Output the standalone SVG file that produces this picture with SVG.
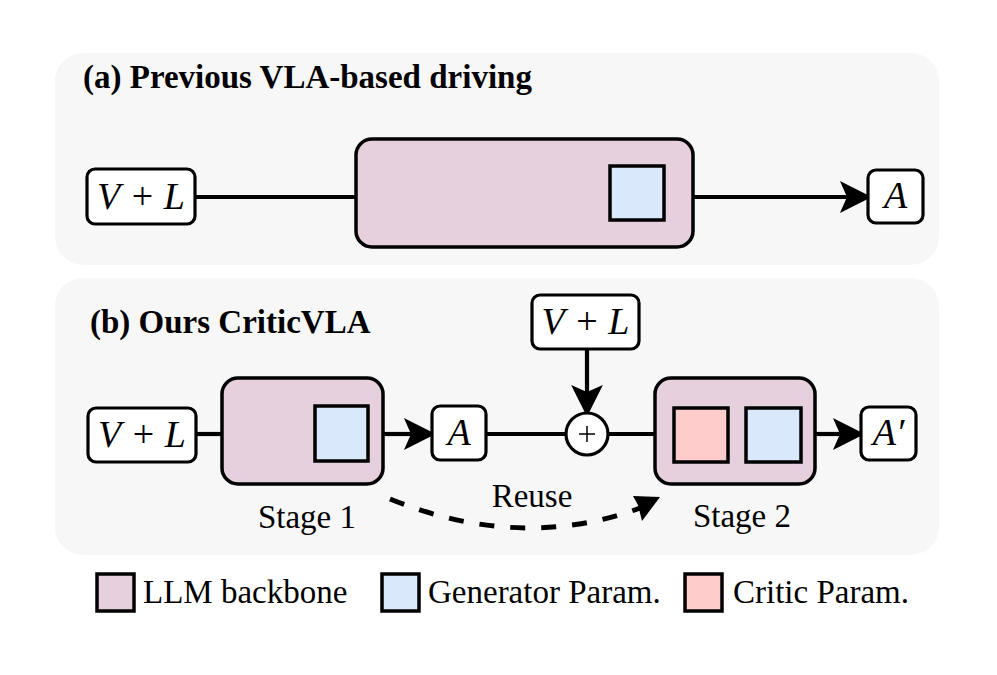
<svg xmlns="http://www.w3.org/2000/svg" width="997" height="675" viewBox="0 0 997 675">
<style>
.panel{fill:#f7f7f7;stroke:none}
.box{fill:#ffffff;stroke:#000;stroke-width:3.2}
.llm{fill:#e6d0de;stroke:#000;stroke-width:3.5}
.gen{fill:#dae8fc;stroke:#000;stroke-width:3.5}
.cri{fill:#ffcccc;stroke:#000;stroke-width:3.5}
.wire{fill:none;stroke:#000;stroke-width:4.2}
.dash{fill:none;stroke:#000;stroke-width:5;stroke-dasharray:15 16}
.title{font-family:"Liberation Serif","Times New Roman",serif;font-weight:bold;font-size:33px;fill:#000}
.lbl{font-family:"Liberation Serif","Times New Roman",serif;font-size:33px;fill:#000}
.math{font-family:"Liberation Serif","Times New Roman",serif;font-size:38px;fill:#000}
.it{font-style:italic}
</style>
<defs>
<marker id="arr" markerUnits="userSpaceOnUse" markerWidth="40" markerHeight="40" viewBox="-2 -16 34 32" refX="6" refY="0" orient="auto" overflow="visible">
<path d="M0,-13.5 L27,0 L0,13.5 L6,0 Z" fill="#000"/>
</marker>
</defs>
<rect width="997" height="675" fill="#ffffff"/>
<g id="panel-a">
<rect class="panel" x="55" y="53" width="884" height="212" rx="28"/>
<text class="title" x="83" y="88">(a) Previous VLA-based driving</text>
</g>
<g id="panel-b">
<rect class="panel" x="55" y="278" width="884" height="277" rx="28"/>
<text class="title" x="90" y="333">(b) Ours CriticVLA</text>
</g>
<g id="connectors">
<line class="wire" x1="195" y1="197" x2="356" y2="197"/>
<line class="wire" x1="693" y1="197" x2="847" y2="197" marker-end="url(#arr)"/>
<line class="wire" x1="196" y1="434" x2="222" y2="434"/>
<line class="wire" x1="383" y1="434" x2="411" y2="434" marker-end="url(#arr)"/>
<line class="wire" x1="486" y1="434" x2="566" y2="434"/>
<line class="wire" x1="608" y1="434" x2="655" y2="434"/>
<line class="wire" x1="815" y1="434" x2="840" y2="434" marker-end="url(#arr)"/>
<line class="wire" x1="587" y1="349" x2="587" y2="392" marker-end="url(#arr)"/>
<path class="dash" d="M390,499 Q521,552 640,508"/>
<path d="M660,497 L633,496 L638,505 L642,521 Z" fill="#000"/>
</g>
<g id="a-input">
<rect class="box" x="87" y="169" width="108" height="55" rx="8"/>
<text class="math" x="141" y="209" text-anchor="middle"><tspan class="it">V</tspan><tspan dx="2"> + </tspan><tspan class="it" dx="1">L</tspan></text>
</g>
<g id="a-llm">
<rect class="llm" x="356" y="139" width="337" height="108" rx="16"/>
<rect class="gen" x="610" y="166" width="54" height="54"/>
</g>
<g id="a-output">
<rect class="box" x="868" y="170" width="55" height="53" rx="8"/>
<text class="math it" x="895.5" y="208" text-anchor="middle">A</text>
</g>
<g id="b-input">
<rect class="box" x="88" y="408" width="108" height="54" rx="8"/>
<text class="math" x="142" y="447" text-anchor="middle"><tspan class="it">V</tspan><tspan dx="2"> + </tspan><tspan class="it" dx="1">L</tspan></text>
</g>
<g id="b-stage1">
<rect class="llm" x="222" y="378" width="161" height="106" rx="16"/>
<rect class="gen" x="315" y="406" width="53" height="55"/>
<text class="lbl" x="307" y="528" text-anchor="middle">Stage 1</text>
</g>
<g id="b-action">
<rect class="box" x="432" y="406" width="54" height="54" rx="8"/>
<text class="math it" x="459" y="445" text-anchor="middle">A</text>
</g>
<g id="b-input2">
<rect class="box" x="532" y="295" width="107" height="54" rx="8"/>
<text class="math" x="585.5" y="334" text-anchor="middle"><tspan class="it">V</tspan><tspan dx="2"> + </tspan><tspan class="it" dx="1">L</tspan></text>
</g>
<g id="b-plus">
<circle cx="587" cy="434" r="21" fill="#ffffff" stroke="#000" stroke-width="3.2"/>
<line x1="579" y1="434" x2="595" y2="434" stroke="#000" stroke-width="1.5"/>
<line x1="587" y1="426" x2="587" y2="442" stroke="#000" stroke-width="1.5"/>
</g>
<g id="b-stage2">
<rect class="llm" x="655" y="378" width="160" height="106" rx="16"/>
<rect class="cri" x="674" y="408" width="54" height="54"/>
<rect class="gen" x="746" y="408" width="55" height="54"/>
<text class="lbl" x="742" y="527" text-anchor="middle">Stage 2</text>
</g>
<g id="b-output">
<rect class="box" x="861" y="407" width="55" height="53" rx="8"/>
<text class="math it" x="888.5" y="445" text-anchor="middle">A′</text>
</g>
<g id="reuse-label">
<text class="lbl" x="532" y="507" text-anchor="middle">Reuse</text>
</g>
<g id="legend">
<rect class="llm" x="97" y="574" width="37" height="37"/>
<text class="lbl" x="143" y="603">LLM backbone</text>
<rect class="gen" x="382" y="574" width="37" height="37"/>
<text class="lbl" x="428" y="603">Generator Param.</text>
<rect class="cri" x="685" y="574" width="37" height="37"/>
<text class="lbl" x="733" y="603">Critic Param.</text>
</g>
</svg>
